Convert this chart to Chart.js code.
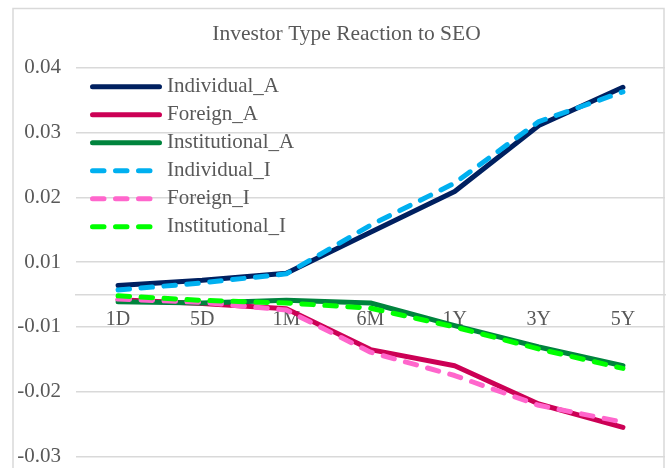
<!DOCTYPE html>
<html><head><meta charset="utf-8">
<script src="https://cdn.jsdelivr.net/npm/chart.js@4"></script>
<style>html,body{margin:0;padding:0;background:#fff;}canvas{display:block;}</style>
</head><body>
<canvas id="c" width="667" height="468"></canvas>
<script>
const categories = ['1D','5D','1M','6M','1Y','3Y','5Y'];
const individualA    = [0.0014, 0.0022, 0.0033, 0.0096, 0.0159, 0.0261, 0.0320];
const foreignA       = [-0.0008, -0.0014, -0.0022, -0.0085, -0.0110, -0.0169, -0.0205];
const institutionalA = [-0.0011, -0.0013, -0.0009, -0.0013, -0.0048, -0.0081, -0.0110];
const individualI    = [0.0007, 0.0018, 0.0032, 0.0107, 0.0172, 0.0267, 0.0313];
const foreignI       = [-0.0007, -0.0012, -0.0024, -0.0089, -0.0125, -0.0171, -0.0197];
const institutionalI = [-0.0002, -0.0009, -0.0013, -0.0021, -0.0050, -0.0084, -0.0114];
const yTickValues = [-0.025, -0.015, -0.005, 0.005, 0.015, 0.025, 0.035];
const yTickLabels = ['-0.03', '-0.02', '-0.01', '0.01', '0.02', '0.03', '0.04'];

const SERIF = '"Liberation Serif", "Times New Roman", serif';
const TEXT = '#595959';
const GRID = '#d9d9d9';
const DASH = [11.5, 11.5];

function ds(label, data, color, dashed, order) {
  return {
    label, data, borderColor: color, backgroundColor: color,
    borderWidth: 5, borderDash: dashed ? DASH : [],
    borderCapStyle: 'round', borderJoinStyle: 'round',
    pointRadius: 0, pointHoverRadius: 0, tension: 0, fill: false, order
  };
}

const frame = {
  id: 'frame',
  afterLayout(chart) {
    if (chart.titleBlock) { chart.titleBlock.left = 28; }
  },
  beforeDraw(chart) {
    const ctx = chart.ctx;
    ctx.save();
    ctx.fillStyle = '#fff';
    ctx.fillRect(0, 0, chart.width, chart.height);
    ctx.strokeStyle = GRID;
    ctx.lineWidth = 1.5;
    ctx.strokeRect(13, 8.5, 651, 480);
    ctx.restore();
  }
};

const excelLegend = {
  id: 'excelLegend',
  afterDraw(chart) {
    const ctx = chart.ctx;
    const a = chart.chartArea;
    ctx.save();
    chart.data.datasets.forEach((d, i) => {
      const y = a.top + 19 + i * 28;
      const x0 = a.left + 16.5;
      ctx.beginPath();
      ctx.lineWidth = d.borderWidth;
      ctx.strokeStyle = d.borderColor;
      ctx.lineCap = 'round';
      ctx.setLineDash(d.borderDash || []);
      ctx.moveTo(x0, y);
      ctx.lineTo(x0 + 67, y);
      ctx.stroke();
      ctx.setLineDash([]);
      ctx.fillStyle = TEXT;
      ctx.font = '21px ' + SERIF;
      ctx.textBaseline = 'middle';
      ctx.textAlign = 'left';
      ctx.fillText(d.label, x0 + 74.5, y);
    });
    ctx.restore();
  }
};

new Chart(document.getElementById('c'), {
  type: 'line',
  data: {
    labels: categories,
    datasets: [
      ds('Individual_A', individualA, '#002060', false, 5),
      ds('Foreign_A', foreignA, '#CC0055', false, 4),
      ds('Institutional_A', institutionalA, '#00843D', false, 3),
      ds('Individual_I', individualI, '#00B0F0', true, 2),
      ds('Foreign_I', foreignI, '#FF66CC', true, 1),
      ds('Institutional_I', institutionalI, '#00FF00', true, 0)
    ]
  },
  options: {
    responsive: false,
    devicePixelRatio: 1,
    animation: false,
    layout: { padding: { left: 0, right: 2, top: 0, bottom: 11.5 } },
    plugins: {
      legend: { display: false },
      tooltip: { enabled: false },
      title: {
        display: true,
        text: 'Investor Type Reaction to SEO',
        color: TEXT,
        font: { family: SERIF, size: 21.5, weight: 'normal', lineHeight: 1.2 },
        padding: { top: 21, bottom: 21 }
      }
    },
    scales: {
      x: {
        position: { y: 0 },
        offset: true,
        grid: { display: false, drawTicks: false },
        border: { display: true, color: GRID, width: 1.5 },
        ticks: { color: TEXT, font: { family: SERIF, size: 20 }, padding: 13, maxRotation: 0, autoSkip: false }
      },
      y: {
        position: 'left',
        min: -0.025,
        max: 0.035,
        afterBuildTicks: s => { s.ticks = yTickValues.map(v => ({ value: v })); },
        afterFit: s => { s.width = 76; s.paddingTop = 8; s.paddingBottom = 8; },
        grid: { color: GRID, lineWidth: 1.5, drawTicks: false },
        border: { display: false },
        ticks: {
          color: TEXT,
          font: { family: SERIF, size: 21, lineHeight: 1 },
          padding: 15,
          callback: (v, i) => yTickLabels[i]
        }
      }
    }
  },
  plugins: [frame, excelLegend]
});
</script>
</body></html>
